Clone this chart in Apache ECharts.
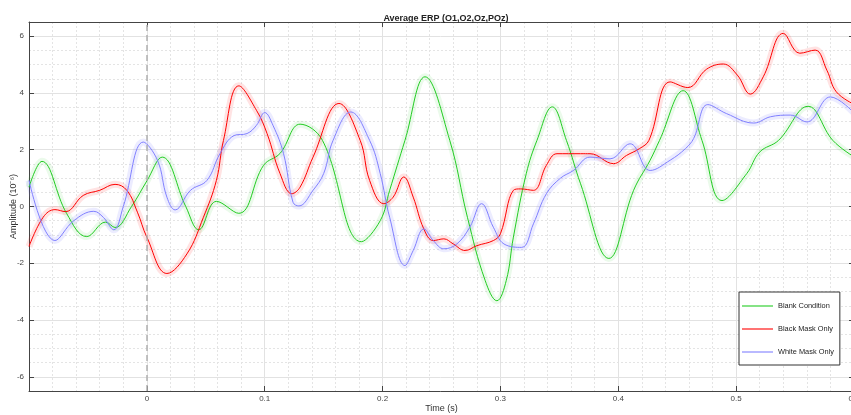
<!DOCTYPE html>
<html>
<head>
<meta charset="utf-8">
<script src="https://cdn.jsdelivr.net/npm/echarts@6/dist/echarts.min.js"></script>
<style>
  html, body { margin: 0; padding: 0; background: #fff; }
  #erpChart { width: 851px; height: 415px; }
</style>
</head>
<body>
<div id="erpChart"></div>
<script>
// time (s) and amplitude (10^-6)
const blankT = [-0.100, -0.089, -0.068, -0.051, -0.035, -0.027, -0.013, 0.000, 0.013, 0.033, 0.044, 0.059, 0.078, 0.099, 0.113, 0.130, 0.149, 0.182, 0.198, 0.206, 0.219, 0.236, 0.257, 0.272, 0.287, 0.297, 0.305, 0.311, 0.322, 0.331, 0.344, 0.356, 0.368, 0.392, 0.413, 0.427, 0.435, 0.455, 0.471, 0.488, 0.509, 0.520, 0.536, 0.561, 0.582, 0.600];
const blankV = [0.68, 1.59, -0.25, -1.06, -0.55, -0.74, 0.00, 0.90, 1.74, 0.00, -0.82, 0.18, -0.24, 1.45, 1.87, 2.90, 2.33, -1.24, -0.50, 0.57, 2.33, 4.57, 2.33, -0.38, -2.60, -3.32, -2.60, -1.08, 1.17, 2.33, 3.51, 2.33, 0.80, -1.83, 0.57, 1.63, 2.33, 4.08, 2.33, 0.21, 1.16, 1.92, 2.33, 3.53, 2.33, 1.75];

const blackT = [-0.100, -0.088, -0.078, -0.069, -0.054, -0.040, -0.027, -0.017, -0.008, 0.000, 0.017, 0.034, 0.048, 0.059, 0.065, 0.078, 0.093, 0.102, 0.113, 0.123, 0.130, 0.141, 0.163, 0.181, 0.189, 0.201, 0.209, 0.218, 0.226, 0.235, 0.243, 0.252, 0.260, 0.270, 0.280, 0.294, 0.300, 0.311, 0.317, 0.328, 0.339, 0.348, 0.368, 0.376, 0.396, 0.407, 0.418, 0.426, 0.444, 0.459, 0.475, 0.489, 0.501, 0.512, 0.523, 0.540, 0.554, 0.567, 0.577, 0.585, 0.600];
const blackV = [-1.41, -0.38, -0.11, -0.18, 0.39, 0.57, 0.78, 0.57, -0.20, -1.08, -2.36, -1.67, -0.38, 0.92, 2.33, 4.25, 3.39, 2.57, 1.16, 0.45, 0.68, 1.74, 3.63, 2.33, 0.92, 0.10, 0.33, 1.04, 0.33, -0.79, -1.20, -1.14, -1.32, -1.55, -1.38, -1.20, -0.96, 0.57, 0.62, 0.57, 1.45, 1.86, 1.86, 1.86, 1.51, 1.80, 2.04, 2.33, 4.39, 4.19, 4.84, 5.02, 4.63, 3.96, 4.57, 6.10, 5.40, 5.51, 4.80, 4.04, 3.60];

const whiteT = [-0.100, -0.078, -0.062, -0.045, -0.037, -0.028, -0.020, -0.003, 0.009, 0.017, 0.024, 0.037, 0.051, 0.062, 0.074, 0.085, 0.093, 0.100, 0.107, 0.116, 0.124, 0.129, 0.141, 0.150, 0.158, 0.173, 0.189, 0.198, 0.206, 0.219, 0.226, 0.235, 0.243, 0.252, 0.263, 0.274, 0.284, 0.294, 0.303, 0.318, 0.328, 0.339, 0.351, 0.362, 0.376, 0.393, 0.410, 0.427, 0.444, 0.457, 0.464, 0.476, 0.492, 0.515, 0.529, 0.546, 0.560, 0.580, 0.600];
const whiteV = [0.92, -1.20, -0.50, -0.17, -0.38, -0.82, 0.00, 2.27, 1.63, 0.33, -0.12, 0.57, 0.92, 1.86, 2.50, 2.57, 2.86, 3.31, 2.86, 1.86, 0.15, 0.02, 0.57, 1.16, 2.33, 3.33, 2.33, 1.16, -0.38, -2.08, -1.55, -0.79, -1.20, -1.49, -1.32, -0.73, 0.10, -0.73, -1.32, -1.44, -0.61, 0.45, 1.00, 1.27, 1.74, 1.68, 2.21, 1.27, 1.63, 2.04, 2.40, 3.59, 3.27, 2.94, 3.16, 3.22, 2.98, 3.86, 3.30];

const seriesNames = ['Blank Condition', 'Black Mask Only', 'White Mask Only'];
const xRange = [-0.1, 0.6];
const yRange = [-6.5, 6.5];

const font = 'Liberation Sans, Arial, sans-serif';
const colors = ['#22cc22', '#ff0000', '#8080ff'];
const bandColors = ['rgba(34,204,34,0.09)', 'rgba(255,0,0,0.11)', 'rgba(128,128,255,0.15)'];

const zip = (ts, vs) => ts.map((t, i) => [t, vs[i]]);
const curves = [zip(blankT, blankV), zip(blackT, blackV), zip(whiteT, whiteV)];

const chart = echarts.init(document.getElementById('erpChart'));

const bandSeries = curves.map((d, i) => ({
  name: seriesNames[i] + ' band',
  type: 'line',
  data: d,
  smooth: 0.4,
  symbol: 'none',
  silent: true,
  z: 1,
  lineStyle: { color: bandColors[i], width: 7 },
}));

const lineSeries = curves.map((d, i) => ({
  name: seriesNames[i],
  type: 'line',
  data: d,
  smooth: 0.4,
  symbol: 'none',
  z: 3,
  itemStyle: { color: colors[i] },
  lineStyle: { color: colors[i], width: 1 },
}));

// dashed stimulus onset line
lineSeries[0].markLine = {
  silent: true,
  symbol: ['none', 'none'],
  label: { show: false },
  lineStyle: { type: [6, 4], color: '#b0b0b0', width: 1.5 },
  data: [{ xAxis: 0 }],
};

const axisText = { color: '#444', fontSize: 8, fontFamily: font };
const boxLine = { show: true, onZero: false, lineStyle: { color: '#444' } };
const inTick = { show: true, inside: true, length: 5, lineStyle: { color: '#444' } };

const option = {
  animation: false,
  backgroundColor: '#fff',
  title: {
    text: 'Average ERP (O1,O2,Oz,POz)',
    left: 441,
    top: 9,
    textAlign: 'center',
    textStyle: { fontSize: 9, fontWeight: 'bold', color: '#222', fontFamily: font },
  },
  grid: { left: 29, right: -3, top: 22, bottom: 24, containLabel: false, outerBoundsMode: 'none' },
  legend: {
    data: seriesNames,
    orient: 'vertical',
    left: 739,
    top: 292,
    itemGap: 13,
    itemWidth: 31,
    itemHeight: 2,
    icon: 'rect',
    padding: [9, 6, 8, 3],
    backgroundColor: '#fff',
    borderColor: '#333',
    borderWidth: 1,
    borderRadius: 0,
    itemStyle: { opacity: 0.55 },
    textStyle: { fontSize: 7.4, color: '#222', fontFamily: font, lineHeight: 10 },
  },
  xAxis: [{
    type: 'value',
    min: xRange[0],
    max: xRange[1],
    interval: 0.1,
    name: 'Time (s)',
    nameLocation: 'middle',
    nameGap: 13,
    nameMoveOverlap: false,
    nameTextStyle: { fontSize: 9, color: '#333', fontFamily: font },
    axisLine: boxLine,
    axisTick: inTick,
    axisLabel: { ...axisText, margin: 4, showMinLabel: false },
    splitLine: { show: true, lineStyle: { color: '#e2e2e2', width: 1 } },
    minorTick: { show: true, splitNumber: 5, length: 0 },
    minorSplitLine: { show: true, lineStyle: { color: '#e4e4e4', type: [2, 2] } },
  }, {
    type: 'value',
    position: 'top',
    min: xRange[0],
    max: xRange[1],
    interval: 0.1,
    axisLine: boxLine,
    axisTick: inTick,
    axisLabel: { show: false },
    splitLine: { show: false },
  }],
  yAxis: [{
    type: 'value',
    min: yRange[0],
    max: yRange[1],
    splitNumber: 6,
    name: 'Amplitude (10⁻⁶)',
    nameLocation: 'middle',
    nameGap: 11,
    nameMoveOverlap: false,
    nameTextStyle: { fontSize: 9, color: '#333', fontFamily: font },
    axisLine: boxLine,
    axisTick: inTick,
    axisLabel: { ...axisText, margin: 5, showMinLabel: false, showMaxLabel: false },
    splitLine: { show: true, lineStyle: { color: '#e2e2e2', width: 1 } },
    minorTick: { show: true, splitNumber: 4, length: 0 },
    minorSplitLine: { show: true, lineStyle: { color: '#e4e4e4', type: [2, 2] } },
  }, {
    type: 'value',
    position: 'right',
    min: yRange[0],
    max: yRange[1],
    splitNumber: 6,
    axisLine: boxLine,
    axisTick: inTick,
    axisLabel: { show: false },
    splitLine: { show: false },
  }],
  series: [...bandSeries, ...lineSeries],
};

chart.setOption(option);
</script>
</body>
</html>
